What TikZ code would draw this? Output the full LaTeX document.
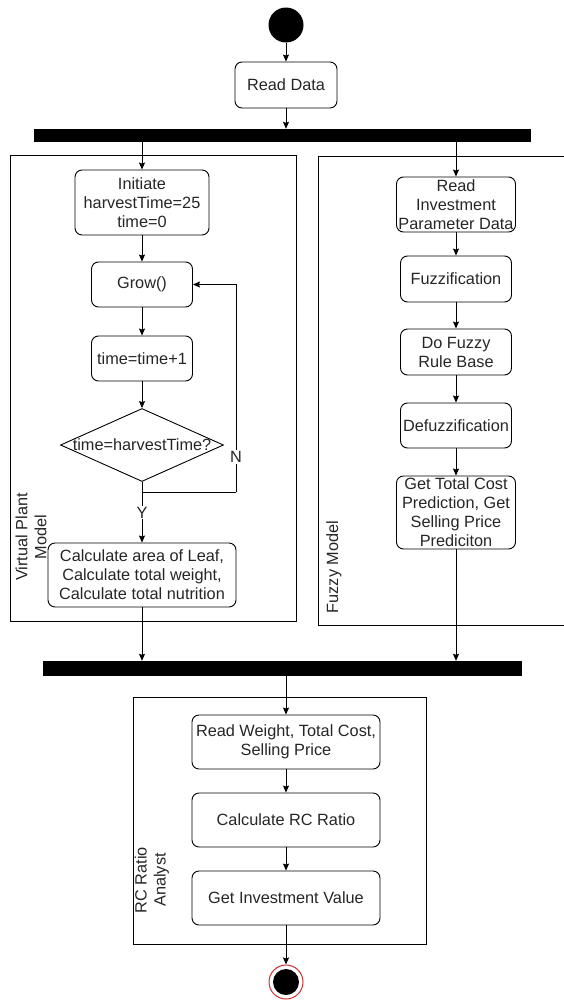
\documentclass[tikz,border=0pt]{standalone}
\usepackage{fontspec}
\setmainfont{Liberation Sans}
\usetikzlibrary{arrows.meta,shapes.geometric}
\definecolor{txt}{HTML}{262626}
\definecolor{endred}{HTML}{D03030}
\begin{document}
\begin{tikzpicture}[x=1pt,y=-1pt,
  every node/.style={font=\fontsize{16.3}{19}\selectfont, text=txt},
  act/.style={draw, rounded corners=7pt, align=center, inner sep=0pt, line width=0.9pt},
  lane/.style={draw, line width=0.9pt, inner sep=0pt},
  bar/.style={fill=black, draw=none, inner sep=0pt},
  arr/.style={-{Stealth[length=7pt,width=6pt,inset=1pt]}, line width=0.9pt},
  ln/.style={line width=0.9pt},
  lbl/.style={fill=white, inner sep=1pt}
]
\useasboundingbox (0,0) rectangle (563,1001);

% swimlanes
\node[lane, minimum width=286pt, minimum height=466pt] (laneL) at (153,388) {};
\node[lane, minimum width=247pt, minimum height=469pt] (laneR) at (441.5,390.5) {};
\node[lane, minimum width=293pt, minimum height=247pt] (laneC) at (279.5,820.5) {};
\node[rotate=90, align=center] (labL) at (31,537) {Virtual Plant\\Model};
\node[rotate=90] (labR) at (334,567) {Fuzzy Model};
\node[rotate=90, align=center] (labC) at (152,880) {RC Ratio\\Analyst};

% start / end
\node[circle, fill=black, minimum size=35pt, inner sep=0pt] (start) at (286,25) {};
\node[circle, draw=endred, line width=1pt, minimum size=34pt, inner sep=0pt] (end) at (286,982) {};
\node[circle, fill=black, minimum size=26pt, inner sep=0pt] (endin) at (end) {};

% bars
\node[bar, minimum width=497pt, minimum height=13pt] (fork) at (282.5,135.5) {};
\node[bar, minimum width=479pt, minimum height=15pt] (join) at (282.5,668.5) {};

% actions
\node[act, minimum width=102pt, minimum height=46pt] (read) at (286,85) {Read Data};

\node[act, minimum width=134pt, minimum height=65pt] (init) at (142,202.5) {Initiate\\harvestTime=25\\time=0};
\node[act, minimum width=101pt, minimum height=45pt] (grow) at (142,284.5) {Grow()};
\node[act, minimum width=101pt, minimum height=45pt] (tinc) at (142,358.5) {time=time+1};
\node[diamond, draw, line width=0.9pt, minimum width=163pt, minimum height=73pt, inner sep=0pt,
      label=center:{time=harvestTime?}] (dia) at (142,445) {};
\node[act, minimum width=188pt, minimum height=64pt] (calc) at (142,575) {Calculate area of Leaf,\\Calculate total weight,\\Calculate total nutrition};

\node[act, minimum width=119pt, minimum height=55pt] (readinv) at (456,204.5) {Read\\Investment\\Parameter Data};
\node[act, minimum width=111pt, minimum height=46pt] (fuzz) at (456,279) {Fuzzification};
\node[act, minimum width=111pt, minimum height=46pt] (rule) at (456,352) {Do Fuzzy\\Rule Base};
\node[act, minimum width=111pt, minimum height=45pt] (defuzz) at (456,425.5) {Defuzzification};
\node[act, minimum width=119pt, minimum height=73pt] (gettc) at (456,512.5) {Get Total Cost\\Prediction, Get\\Selling Price\\Prediciton};

\node[act, minimum width=188pt, minimum height=54pt] (readw) at (286,742) {Read Weight, Total Cost,\\Selling Price};
\node[act, minimum width=188pt, minimum height=54pt] (calcrc) at (286,820) {Calculate RC Ratio};
\node[act, minimum width=188pt, minimum height=54pt] (getinv) at (286,898) {Get Investment Value};

% connectors
\draw[arr] (start) -- (read);
\draw[arr] (read) -- (read |- fork.north);

\draw[arr] (fork.south -| init) -- (init);
\draw[arr] (init) -- (grow);
\draw[arr] (grow) -- (tinc);
\draw[arr] (tinc) -- (dia);
\coordinate (lc) at (236,492);
\draw[ln] (dia.south) -- (dia.south |- lc) -- (lc);
\draw[arr] (lc) -- node[lbl, pos=0.169] (nlab) {N} (lc |- grow.east) -- (grow.east);
\draw[arr] (dia.south) -- node[lbl, pos=0.51] (ylab) {Y} (calc);
\draw[arr] (calc) -- (calc |- join.north);

\draw[arr] (fork.south -| readinv) -- (readinv);
\draw[arr] (readinv) -- (fuzz);
\draw[arr] (fuzz) -- (rule);
\draw[arr] (rule) -- (defuzz);
\draw[arr] (defuzz) -- (gettc);
\draw[arr] (gettc) -- (gettc |- join.north);

\draw[arr] (join.south -| readw) -- (readw);
\draw[arr] (readw) -- (calcrc);
\draw[arr] (calcrc) -- (getinv);
\draw[arr] (getinv) -- (end);
\end{tikzpicture}
\end{document}
